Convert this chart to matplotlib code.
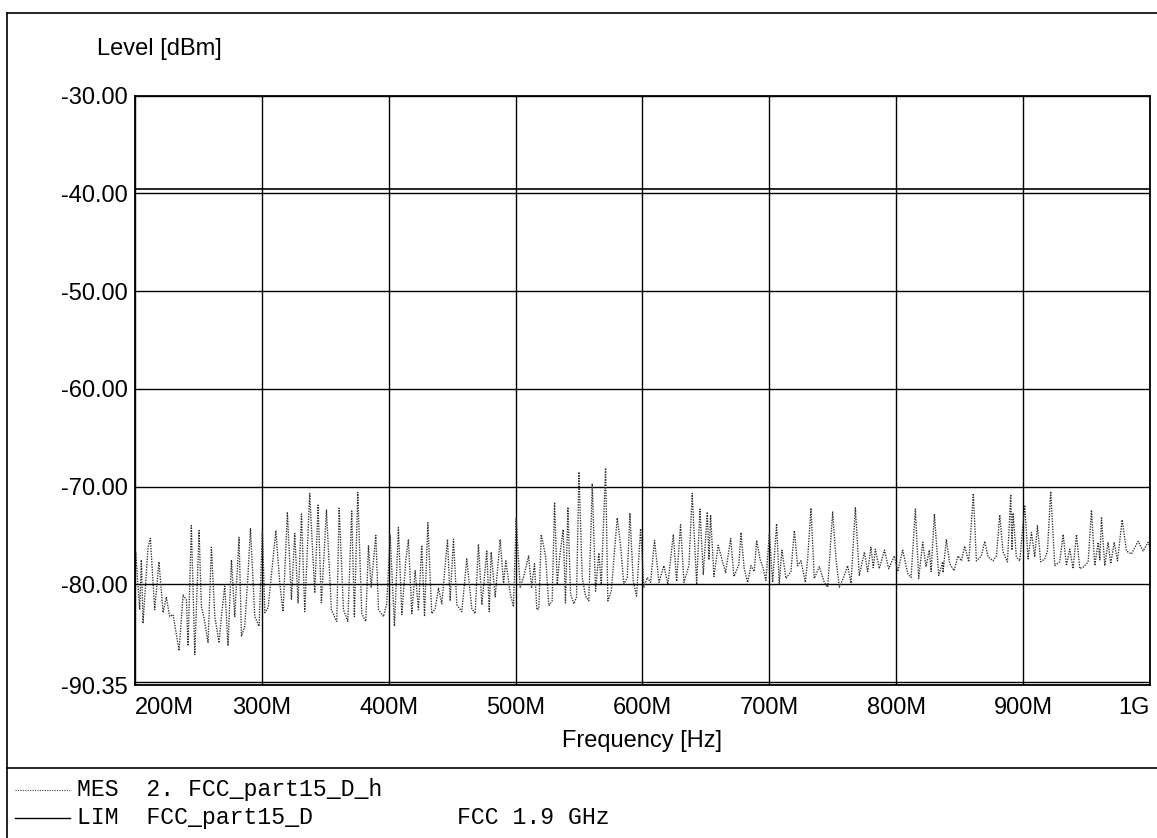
import matplotlib
matplotlib.use("Agg")
import matplotlib.pyplot as plt
from matplotlib.lines import Line2D

freq_mhz = [
    200.0, 200.5, 203.7, 205.0, 206.3, 210.3, 212.1, 215.5, 218.9, 222.1,
    224.7, 227.3, 230.0, 234.7, 237.9, 240.5, 241.8, 244.4, 247.1, 250.5,
    252.3, 254.2, 257.6, 260.2, 262.9, 266.2, 268.1, 270.7, 273.3, 276.0,
    278.6, 282.0, 283.9, 286.5, 289.1, 291.0, 294.4, 297.8, 300.4, 302.3,
    304.9, 311.0, 314.1, 316.7, 320.1, 323.3, 325.9, 328.5, 331.2, 333.8,
    337.7, 341.7, 344.3, 346.9, 350.9, 354.8, 358.8,
    359.0, 360.9, 364.3, 367.7, 370.8, 372.9, 375.6, 378.7, 381.9, 384.0,
    386.1, 389.8, 391.9, 395.8, 398.4, 401.1, 404.5, 407.6, 410.3, 413.4,
    415.5, 418.2, 420.8, 423.4, 426.0, 428.2, 430.8, 433.9, 436.6, 439.2,
    441.8, 446.3, 448.4, 451.0, 453.7, 457.6, 461.5, 465.5, 468.1, 470.7,
    473.4, 477.3, 479.2, 480.7, 483.9, 487.8, 490.5, 492.3, 495.7, 498.3,
    500.4, 503.6, 506.2, 510.2, 512.6, 514.9, 516.7,
    518.3, 520.2, 523.6, 526.2, 528.8, 530.7, 532.8, 534.9, 537.5, 539.3,
    541.2, 543.3, 545.9, 548.0, 549.9, 552.5, 555.1, 557.7, 560.4, 563.0,
    565.6, 567.5, 570.9, 572.7, 575.4, 580.1, 582.7, 585.3, 588.0, 590.1,
    592.7, 595.3, 598.5, 601.1, 603.8, 606.4, 609.5, 613.0, 616.9, 620.0,
    624.3, 626.9, 630.0, 632.7, 636.6, 639.2, 642.7, 645.3, 647.9, 651.1,
    652.4, 653.7, 656.3, 659.7, 662.9, 665.5, 669.5, 672.1, 676.0,
    677.6, 680.2, 682.9, 685.5, 688.1, 690.0, 692.6, 695.2, 697.3, 700.0,
    702.6, 705.7, 707.8, 709.9, 713.1, 717.0, 719.7, 722.3, 724.9, 728.4,
    730.2, 732.8, 735.4, 739.4, 743.3, 746.0, 749.9, 752.5, 755.2, 759.1,
    761.7, 764.4, 767.8, 770.9, 774.9, 777.5, 780.1, 781.9, 783.6, 786.7,
    790.7, 794.1, 798.5, 801.2, 805.1, 809.1, 811.7, 815.1, 817.7, 820.9,
    823.5, 826.1, 827.5, 830.1, 833.5, 836.7,
    836.9, 839.5, 842.2, 845.6, 848.7, 851.4, 854.0, 857.2, 860.8, 863.2,
    867.1, 869.8, 872.4, 876.3, 879.0, 881.6, 884.2, 887.7, 890.3, 891.2,
    892.1, 894.7, 897.4, 901.3, 903.9, 906.6, 909.2, 911.3, 913.9, 917.1,
    919.2, 921.8, 925.0, 928.9, 931.6, 934.2, 936.8, 939.4, 942.1, 944.7,
    948.1, 951.3, 953.9, 956.5, 959.2, 960.5, 961.8, 964.4, 967.0, 969.1,
    971.8, 974.4, 978.1, 981.5, 985.4, 990.7, 994.6, 998.6, 1000.0,
]
level_dbm = [
    -80.5, -76.7, -82.6, -77.5, -84.0, -76.2, -75.3, -82.6, -77.7, -82.9,
    -81.3, -83.3, -83.1, -86.8, -81.1, -81.6, -86.3, -74.0, -87.2, -74.5,
    -82.3, -83.3, -86.0, -76.2, -83.3, -86.0, -83.3, -80.2, -86.3, -77.5,
    -83.3, -75.2, -85.3, -84.3, -78.9, -74.3, -83.3, -84.3, -74.5, -82.9,
    -82.4, -74.5, -79.9, -82.8, -72.6, -81.6, -74.8, -81.9, -72.8, -82.8,
    -70.7, -80.9, -71.9, -81.9, -72.4, -82.6, -83.8,
    -83.8, -72.2, -82.6, -83.8, -72.5, -83.3, -70.6, -83.0, -83.8, -76.0,
    -80.3, -75.0, -82.6, -83.3, -82.0, -75.0, -84.3, -74.2, -83.1, -77.6,
    -75.4, -83.0, -78.6, -82.6, -76.0, -83.3, -73.7, -83.0, -82.5, -80.4,
    -82.0, -75.4, -81.7, -75.4, -82.1, -82.8, -77.4, -82.5, -83.0, -75.9,
    -82.1, -76.6, -82.8, -76.7, -81.3, -75.4, -79.9, -77.6, -80.9, -82.3,
    -73.3, -80.3, -79.3, -77.1, -80.3, -77.9, -82.6,
    -82.5, -74.9, -77.1, -82.2, -81.7, -71.6, -80.0, -77.0, -74.4, -81.9,
    -72.1, -81.0, -82.0, -81.3, -68.5, -79.3, -81.2, -81.7, -69.7, -80.7,
    -76.8, -80.0, -68.1, -81.7, -80.7, -73.2, -76.0, -80.0, -79.3, -72.7,
    -79.7, -81.2, -74.3, -80.3, -79.3, -79.8, -75.5, -79.8, -78.1, -80.0,
    -74.9, -79.7, -73.9, -79.8, -78.1, -70.7, -80.0, -72.3, -79.0, -72.6,
    -77.5, -72.9, -79.2, -76.0, -77.6, -78.8, -75.3, -79.2, -78.0,
    -74.7, -78.4, -79.8, -78.1, -78.7, -75.5, -77.4, -78.4, -79.6, -74.8,
    -79.8, -73.8, -79.9, -76.5, -79.4, -78.7, -74.5, -78.1, -77.6, -79.8,
    -77.4, -72.2, -79.4, -78.2, -79.8, -80.3, -72.6, -77.4, -80.3, -79.1,
    -78.1, -79.9, -72.1, -79.1, -76.7, -78.7, -76.2, -78.3, -76.4, -78.4,
    -76.5, -78.4, -77.1, -78.7, -76.5, -78.9, -79.3, -72.3, -79.4, -75.7,
    -78.2, -76.5, -78.7, -72.8, -79.1, -77.7,
    -78.8, -75.4, -77.9, -78.6, -77.1, -77.6, -76.1, -77.7, -70.7, -77.6,
    -77.1, -75.6, -77.2, -77.6, -77.1, -72.9, -76.7, -77.7, -70.8, -76.5,
    -72.7, -77.2, -77.6, -71.9, -77.4, -74.7, -77.2, -74.0, -77.7, -77.4,
    -76.6, -70.5, -78.1, -77.7, -74.9, -78.1, -76.4, -78.4, -74.9, -78.4,
    -78.2, -77.7, -72.4, -78.1, -75.7, -77.5, -73.2, -78.1, -75.7, -77.9,
    -75.7, -77.6, -73.4, -76.6, -76.9, -75.6, -76.6, -75.7, -76.2,
]

# limit line (LIM)
limit_freq = [200.0, 1000.0]
limit_dbm = [-39.5, -39.5]

x_ticks = [200, 300, 400, 500, 600, 700, 800, 900, 1000]
x_labels = ["200M", "300M", "400M", "500M", "600M", "700M", "800M", "900M", "1G"]
y_ticks = [-30, -40, -50, -60, -70, -80, -90.35]
y_labels = ["-30.00", "-40.00", "-50.00", "-60.00", "-70.00", "-80.00", "-90.35"]

plt.rcParams["font.family"] = ["Liberation Sans", "DejaVu Sans"]

fig = plt.figure(figsize=(11.57, 8.38), dpi=100)
ax = fig.add_axes([0.1167, 0.1821, 0.8772, 0.7036])

ax.plot(freq_mhz, level_dbm, color="#2e2e2e", lw=0.95, linestyle=(0, (1, 1)))
ax.plot(limit_freq, limit_dbm, color="black", lw=1.2)

ax.set_xlim(200, 1000)
ax.set_ylim(-90.35, -30)
ax.set_xticks(x_ticks)
ax.set_xticklabels(x_labels, fontsize=17)
ax.set_yticks(y_ticks)
ax.set_yticklabels(y_labels, fontsize=17)
ax.set_yticks([-90], minor=True)
ax.tick_params(which="both", length=0)
ax.tick_params(axis="x", pad=8.5)
ax.tick_params(axis="y", pad=5)
xl = ax.get_xticklabels()
xl[0].set_ha("left")
xl[-1].set_ha("right")

ax.grid(True, which="both", color="black", lw=1.0)
for s in ax.spines.values():
    s.set_linewidth(1.3)

ax.set_xlabel("Frequency [Hz]", fontsize=17, labelpad=8)
fig.text(0.0838, 0.9415, "Level [dBm]", fontsize=17, va="center", ha="left")

# page frame
fig.add_artist(Line2D([0.0063, 1.0], [0.9848, 0.9848], color="black", lw=1.2))
fig.add_artist(Line2D([0.0063, 0.0063], [0.0, 0.9848], color="black", lw=1.2))
fig.add_artist(Line2D([0.0063, 1.0], [0.0835, 0.0835], color="black", lw=1.2))

# legend block
mono = "Liberation Mono"
fig.add_artist(Line2D([0.013, 0.0605], [0.0573, 0.0573], color="#3c3c3c", lw=0.8, linestyle=(0, (1, 1.2))))
fig.add_artist(Line2D([0.013, 0.0605], [0.0239, 0.0239], color="black", lw=1.0))
fig.text(0.0666, 0.0573, "MES  2. FCC_part15_D_h", family=mono, fontsize=16.7, va="center")
fig.text(0.0666, 0.0239, "LIM  FCC_part15_D", family=mono, fontsize=16.7, va="center")
fig.text(0.395, 0.0239, "FCC 1.9 GHz", family=mono, fontsize=16.7, va="center")

fig.savefig("out.png", dpi=100)
